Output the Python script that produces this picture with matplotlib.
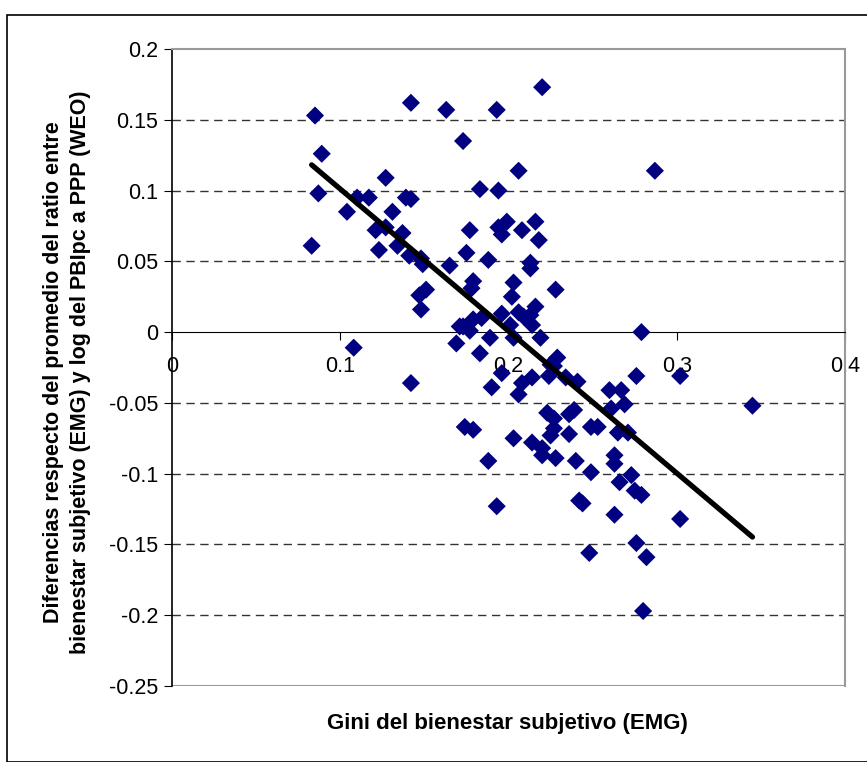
import numpy as np
import matplotlib.pyplot as plt
from matplotlib.patches import Rectangle

# Gini del bienestar subjetivo (EMG) vs diferencias respecto del promedio
gini = [0.085, 0.089, 0.087, 0.083, 0.104, 0.110, 0.117, 0.127, 0.131, 0.121,
        0.127, 0.123, 0.134, 0.137, 0.141, 0.139, 0.142, 0.142, 0.163, 0.193,
        0.220, 0.173, 0.206, 0.183, 0.194, 0.177, 0.194, 0.199, 0.196, 0.208,
        0.216, 0.218, 0.148, 0.149, 0.175, 0.165, 0.188, 0.213, 0.213, 0.179,
        0.178, 0.151, 0.147, 0.148, 0.203, 0.202, 0.228, 0.216, 0.196, 0.206,
        0.209, 0.213, 0.214, 0.201, 0.179, 0.184, 0.171, 0.173, 0.177, 0.279,
        0.169, 0.189, 0.203, 0.219, 0.183, 0.142, 0.196, 0.190, 0.208, 0.206,
        0.214, 0.225, 0.229, 0.224, 0.227, 0.234, 0.241, 0.276, 0.302, 0.260,
        0.267, 0.269, 0.261, 0.223, 0.227, 0.225, 0.227, 0.236, 0.239, 0.236,
        0.249, 0.253, 0.265, 0.271, 0.174, 0.179, 0.203, 0.214, 0.220, 0.220,
        0.228, 0.240, 0.263, 0.263, 0.188, 0.249, 0.273, 0.266, 0.275, 0.279,
        0.242, 0.244, 0.193, 0.263, 0.302, 0.276, 0.248, 0.282, 0.280, 0.345,
        0.108, 0.287]
diferencia = [0.153, 0.126, 0.098, 0.061, 0.085, 0.095, 0.095, 0.109, 0.085, 0.072,
              0.074, 0.058, 0.061, 0.070, 0.054, 0.095, 0.094, 0.162, 0.157, 0.157,
              0.173, 0.135, 0.114, 0.101, 0.100, 0.072, 0.074, 0.078, 0.069, 0.072,
              0.078, 0.065, 0.052, 0.048, 0.056, 0.047, 0.051, 0.049, 0.045, 0.036,
              0.031, 0.030, 0.026, 0.016, 0.035, 0.025, 0.030, 0.018, 0.013, 0.014,
              0.011, 0.012, 0.005, 0.005, 0.009, 0.010, 0.004, 0.004, 0.001, 0.000,
              -0.008, -0.004, -0.004, -0.004, -0.015, -0.036, -0.029, -0.039, -0.036, -0.044,
              -0.032, -0.023, -0.018, -0.031, -0.024, -0.032, -0.035, -0.031, -0.031, -0.041,
              -0.041, -0.051, -0.054, -0.057, -0.061, -0.073, -0.068, -0.058, -0.055, -0.072,
              -0.067, -0.067, -0.071, -0.071, -0.067, -0.069, -0.075, -0.078, -0.082, -0.087,
              -0.089, -0.091, -0.087, -0.093, -0.091, -0.099, -0.101, -0.106, -0.112, -0.115,
              -0.119, -0.121, -0.123, -0.129, -0.132, -0.149, -0.156, -0.159, -0.197, -0.052,
              -0.011, 0.114]

x_ticks = [0, 0.1, 0.2, 0.3, 0.4]
x_labels = ['0', '0.1', '0.2', '0.3', '0.4']
y_ticks = [0.2, 0.15, 0.1, 0.05, 0, -0.05, -0.1, -0.15, -0.2, -0.25]
y_labels = ['0.2', '0.15', '0.1', '0.05', '0', '-0.05', '-0.1', '-0.15', '-0.2', '-0.25']

plt.rcParams['font.family'] = ['Liberation Sans', 'DejaVu Sans']

fig = plt.figure(figsize=(8.67, 7.62), dpi=100)
ax = fig.add_axes([172/867, 1 - 686/762, 673/867, 637/762])

# outer chart frame
fig.patches.append(Rectangle((7/867, 0), 1, 1 - 15/762, transform=fig.transFigure,
                             fill=False, edgecolor='black', linewidth=1.2))

x = np.array(gini)
y = np.array(diferencia)

# dashed gridlines
for yv in [0.15, 0.1, 0.05, -0.05, -0.1, -0.15, -0.2]:
    ax.axhline(yv, color='#333333', linestyle=(0, (6, 4)), linewidth=1.0, zorder=1)

ax.scatter(x, y, marker='D', s=85, color='#000080', edgecolors='none', zorder=3)

# linear trend line
m, b = np.polyfit(x, y, 1)
xs = np.array([x.min(), x.max()])
ax.plot(xs, m * xs + b, color='black', linewidth=3.8, solid_capstyle='round', zorder=4)

ax.set_xlim(0, 0.4)
ax.set_ylim(-0.25, 0.2)
ax.spines['bottom'].set_position(('data', 0))
ax.spines['bottom'].set_color('black')
ax.spines['left'].set_color('black')
ax.spines['left'].set_linewidth(1.2)
for s in ['top', 'right']:
    ax.spines[s].set_color('#999999')
    ax.spines[s].set_linewidth(1.5)
ax.axhline(-0.25, color='#999999', linewidth=1.5, zorder=2)

ax.set_xticks(x_ticks)
ax.set_xticklabels(x_labels)
ax.set_yticks(y_ticks)
ax.set_yticklabels(y_labels)
ax.tick_params(axis='both', direction='out', length=6, labelsize=15.5, color='black')
ax.tick_params(axis='y', pad=4)
ax.tick_params(axis='x', pad=11)

fig.text(507/867, 1 - 723/762, 'Gini del bienestar subjetivo (EMG)',
         ha='center', va='center', fontsize=16, fontweight='bold')
fig.text(67/867, 1 - 372/762,
         'Diferencias respecto del promedio del ratio entre\n'
         'bienestar subjetivo (EMG) y log del PBIpc a PPP (WEO)',
         ha='center', va='center', rotation=90, fontsize=15.5, fontweight='bold',
         linespacing=1.4)

plt.savefig('out.png', dpi=100)
